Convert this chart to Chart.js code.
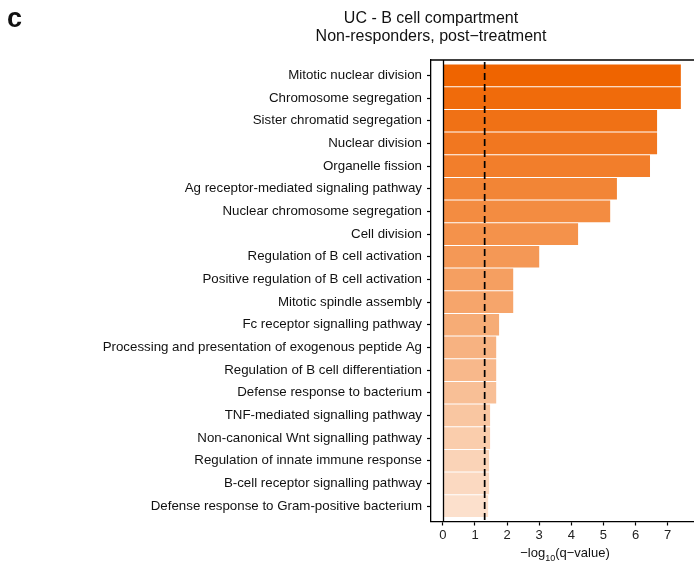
<!DOCTYPE html>
<html>
<head>
<meta charset="utf-8">
<script src="https://cdn.jsdelivr.net/npm/chart.js@4/dist/chart.umd.min.js"></script>
<style>
  html, body { margin: 0; padding: 0; background: #fff; }
  canvas { display: block; }
</style>
</head>
<body>
<canvas id="chart" width="694" height="565"></canvas>
<script>
// GO terms, top to bottom
const categories = [
  "Mitotic nuclear division",
  "Chromosome segregation",
  "Sister chromatid segregation",
  "Nuclear division",
  "Organelle fission",
  "Ag receptor-mediated signaling pathway",
  "Nuclear chromosome segregation",
  "Cell division",
  "Regulation of B cell activation",
  "Positive regulation of B cell activation",
  "Mitotic spindle assembly",
  "Fc receptor signalling pathway",
  "Processing and presentation of exogenous peptide Ag",
  "Regulation of B cell differentiation",
  "Defense response to bacterium",
  "TNF-mediated signalling pathway",
  "Non-canonical Wnt signalling pathway",
  "Regulation of innate immune response",
  "B-cell receptor signalling pathway",
  "Defense response to Gram-positive bacterium"
];

// -log10(q-value) per term
const negLogQ = [
  7.41, 7.41, 6.67, 6.67, 6.45, 5.42, 5.21, 4.21, 3.00, 2.19,
  2.19, 1.75, 1.66, 1.66, 1.66, 1.47, 1.47, 1.44, 1.44, 1.41
];

// significance cut-off, -log10(0.05)
const threshold = [1.301];

const xTickValues = [0, 1, 2, 3, 4, 5, 6, 7];

const titleLines = ["UC - B cell compartment", "Non-responders, post\u2212treatment"];
const panelLetter = "c";

const FONT = "'Liberation Sans', Arial, Helvetica, sans-serif";

// orange fading toward white with rank
const barColors = categories.map((_, i) => {
  const a = 1 - i * (0.80 / (categories.length - 1));
  return `rgba(239, 100, 0, ${a.toFixed(3)})`;
});

const decorations = {
  id: 'decorations',
  afterDatasetsDraw(chart) {
    const { ctx, chartArea: area, scales: { x } } = chart;
    ctx.save();
    // top frame line
    ctx.strokeStyle = '#000';
    ctx.lineWidth = 1.3;
    ctx.beginPath();
    ctx.moveTo(area.left, area.top);
    ctx.lineTo(area.right, area.top);
    ctx.stroke();
    // zero line
    const x0 = Math.round(x.getPixelForValue(0)) + 0.5;
    ctx.lineWidth = 1.3;
    ctx.beginPath();
    ctx.moveTo(x0, area.top);
    ctx.lineTo(x0, area.bottom);
    ctx.stroke();
    // threshold dashed line
    const xt = x.getPixelForValue(threshold[0]);
    ctx.setLineDash([7, 4]);
    ctx.lineWidth = 1.7;
    ctx.beginPath();
    ctx.moveTo(xt, area.top + 2);
    ctx.lineTo(xt, area.bottom);
    ctx.stroke();
    ctx.setLineDash([]);
    ctx.restore();
  },
  afterDraw(chart) {
    const { ctx } = chart;
    ctx.save();
    ctx.fillStyle = '#111';
    // panel letter
    ctx.font = `bold 27px ${FONT}`;
    ctx.textAlign = 'left';
    ctx.textBaseline = 'alphabetic';
    ctx.fillText(panelLetter, 7, 27);
    // title
    ctx.font = `16px ${FONT}`;
    ctx.textAlign = 'center';
    ctx.textBaseline = 'middle';
    ctx.fillText(titleLines[0], 431, 19);
    ctx.fillText(titleLines[1], 431, 37);
    // x axis title with subscript
    const main = 13;
    const sub = 9;
    const parts = [
      { t: "\u2212log", size: main, dy: 0 },
      { t: "10", size: sub, dy: 4 },
      { t: "(q\u2212value)", size: main, dy: 0 }
    ];
    let total = 0;
    parts.forEach(p => { ctx.font = `${p.size}px ${FONT}`; p.w = ctx.measureText(p.t).width; total += p.w; });
    let cx = 565 - total / 2;
    const base = 557;
    ctx.textAlign = 'left';
    ctx.textBaseline = 'alphabetic';
    parts.forEach(p => {
      ctx.font = `${p.size}px ${FONT}`;
      ctx.fillText(p.t, cx, base + p.dy);
      cx += p.w;
    });
    ctx.restore();
  }
};

new Chart(document.getElementById('chart'), {
  type: 'bar',
  data: {
    datasets: [{
      data: negLogQ.map((v, i) => ({ x: v, y: i })),
      backgroundColor: barColors,
      borderWidth: 0,
      barPercentage: 0.955,
      categoryPercentage: 1
    }]
  },
  options: {
    indexAxis: 'y',
    responsive: false,
    animation: false,
    devicePixelRatio: 1,
    layout: { padding: { top: 60, left: 0, right: 0, bottom: 0 } },
    plugins: {
      legend: { display: false },
      tooltip: { enabled: false },
      title: { display: false }
    },
    scales: {
      x: {
        type: 'linear',
        min: -0.37,
        max: 7.82,
        afterBuildTicks(scale) { scale.ticks = xTickValues.map(v => ({ value: v })); },
        afterFit(scale) { scale.height = 43.5; },
        grid: { drawOnChartArea: false, tickLength: 4, tickColor: '#000', tickWidth: 1.2 },
        border: { display: true, color: '#000', width: 1.3 },
        ticks: { color: '#222', font: { family: FONT, size: 13 }, padding: 2, maxRotation: 0 }
      },
      y: {
        type: 'linear',
        reverse: true,
        offset: false,
        min: -0.68,
        max: categories.length - 1 + 0.68,
        afterBuildTicks(scale) { scale.ticks = categories.map((_, i) => ({ value: i })); },
        afterFit(scale) { scale.width = 431; },
        grid: { offset: false, drawOnChartArea: false, tickLength: 4, tickColor: '#000', tickWidth: 1.2 },
        border: { display: true, color: '#000', width: 1.3 },
        ticks: {
          color: '#111',
          font: { family: FONT, size: 13.3 },
          padding: 5,
          autoSkip: false,
          callback: (v) => categories[v]
        }
      }
    }
  },
  plugins: [decorations]
});
</script>
</body>
</html>
